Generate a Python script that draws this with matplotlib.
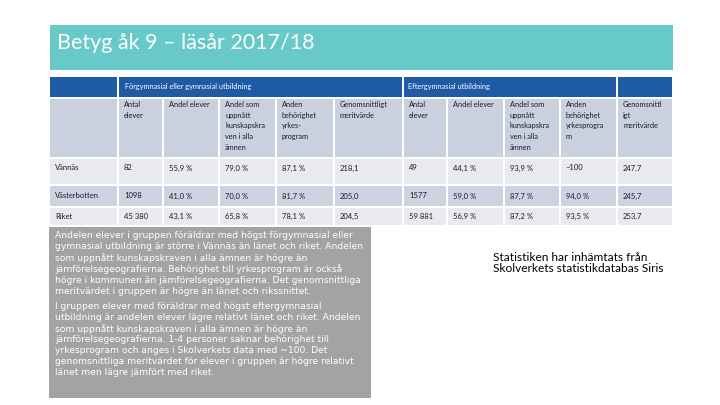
import matplotlib
matplotlib.use('Agg')
import matplotlib.pyplot as plt
from matplotlib.patches import Rectangle

plt.rcParams['font.family'] = ['Lato', 'DejaVu Sans']

title = 'Betyg åk 9 – läsår 2017/18'
group_labels = ['Förgymnasial eller gymnasial utbildning', 'Eftergymnasial utbildning', '']
col_headers = ['Antal\nelever', 'Andel elever', 'Andel som\nuppnått\nkunskapskra\nven i alla\nämnen',
               'Anden\nbehörighet\nyrkes-\nprogram', 'Genomsnittligt\nmeritvärde',
               'Antal\nelever', 'Andel elever', 'Andel som\nuppnått\nkunskapskra\nven i alla\nämnen',
               'Anden\nbehörighet\nyrkesprogra\nm', 'Genomsnittl\nigt\nmeritvärde']
regions = ['Vännäs', 'Västerbotten', 'Riket']
forgym = [['82', '55,9 %', '79,0 %', '87,1 %', '218,1'],
          ['1098', '41,0 %', '70,0 %', '81,7 %', '205,0'],
          ['45 380', '43,1 %', '65,8 %', '78,1 %', '204,5']]
eftergym = [['49', '44,1 %', '93,9 %', '~100', '247,7'],
            ['1577', '59,0 %', '87,7 %', '94,0 %', '245,7'],
            ['59 881', '56,9 %', '87,2 %', '93,5 %', '253,7']]

para1 = ('Andelen elever i gruppen föräldrar med högst förgymnasial eller\n'
         'gymnasial utbildning är större i Vännäs än länet och riket. Andelen\n'
         'som uppnått kunskapskraven i alla ämnen är högre än\n'
         'jämförelsegeografierna. Behörighet till yrkesprogram är också\n'
         'högre i kommunen än jämförelsegeografierna. Det genomsnittliga\n'
         'meritvärdet i gruppen är högre än länet och rikssnittet.')
para2 = ('I gruppen elever med föräldrar med högst eftergymnasial\n'
         'utbildning är andelen elever lägre relativt länet och riket. Andelen\n'
         'som uppnått kunskapskraven i alla ämnen är högre än\n'
         'jämförelsegeografierna. 1-4 personer saknar behörighet till\n'
         'yrkesprogram och anges i Skolverkets data med ~100. Det\n'
         'genomsnittliga meritvärdet för elever i gruppen är högre relativt\n'
         'länet men lägre jämfört med riket.')
source = 'Statistiken har inhämtats från\nSkolverkets statistikdatabas Siris'

# layout in pixels
col_x = [50, 119, 164, 220, 277, 335, 404, 448, 505, 561, 618, 674]
row_y = [77, 99, 159, 186, 208, 227]
dark = '#1f5aa5'
head = '#c9d0de'
light = '#e8eaf0'
mid = '#cdd3e0'
txt = '#1a1a2e'

fig = plt.figure(figsize=(7.2, 4.05), dpi=100)
ax = fig.add_axes([0, 0, 1, 1])
ax.set_xlim(0, 720)
ax.set_ylim(405, 0)
ax.axis('off')

def cell(x0, x1, y0, y1, color):
    ax.add_patch(Rectangle((x0, y0), x1 - x0 - 2, y1 - y0 - 2, color=color, lw=0))

# title bar
ax.add_patch(Rectangle((50, 25), 623, 45, color='#67c9c8', lw=0))
ax.text(57, 43, title, color='white', fontsize=15.5, va='center', ha='left')

# group header row
cell(col_x[0], col_x[1], row_y[0], row_y[1], dark)
cell(col_x[1], col_x[6], row_y[0], row_y[1], dark)
cell(col_x[6], col_x[10], row_y[0], row_y[1], dark)
cell(col_x[10], col_x[11], row_y[0], row_y[1], dark)
ax.text(col_x[1] + 6, 87, group_labels[0], color='white', fontsize=5.3, va='center')
ax.text(col_x[6] + 4, 87, group_labels[1], color='white', fontsize=5.3, va='center')

# column header row
cell(col_x[0], col_x[1], row_y[1], row_y[2], head)
for i, h in enumerate(col_headers):
    cell(col_x[i + 1], col_x[i + 2], row_y[1], row_y[2], head)
    ax.text(col_x[i + 1] + 5, 101, h, color=txt, fontsize=5.3, va='top',
            ha='left', linespacing=1.62)

# data rows
for r, name in enumerate(regions):
    color = mid if r == 1 else light
    y0, y1 = row_y[r + 2], row_y[r + 3]
    ty = y0 + 9 if r == 0 else (y0 + y1 - 2) / 2
    cell(col_x[0], col_x[1], y0, y1, color)
    ax.text(col_x[0] + 5, ty, name, color=txt, fontsize=5.5, va='center')
    vals = forgym[r] + eftergym[r]
    for i, v in enumerate(vals):
        cell(col_x[i + 1], col_x[i + 2], y0, y1, color)
        ax.text(col_x[i + 1] + 5, ty, v, color=txt, fontsize=5.5, va='center')

# comment box
ax.add_patch(Rectangle((49, 227), 322, 171, color='#a3a3a6', lw=0))
box_font = ['DejaVu Sans']
ax.text(55, 231, para1, color='white', fontsize=6.6, va='top', ha='left',
        linespacing=1.25, family=box_font)
ax.text(55, 302, para2, color='white', fontsize=6.6, va='top', ha='left',
        linespacing=1.25, family=box_font)

ax.text(493, 263, source, color='black', fontsize=8.6, va='center', ha='left', linespacing=1.1)

plt.savefig('out.png', dpi=100)
